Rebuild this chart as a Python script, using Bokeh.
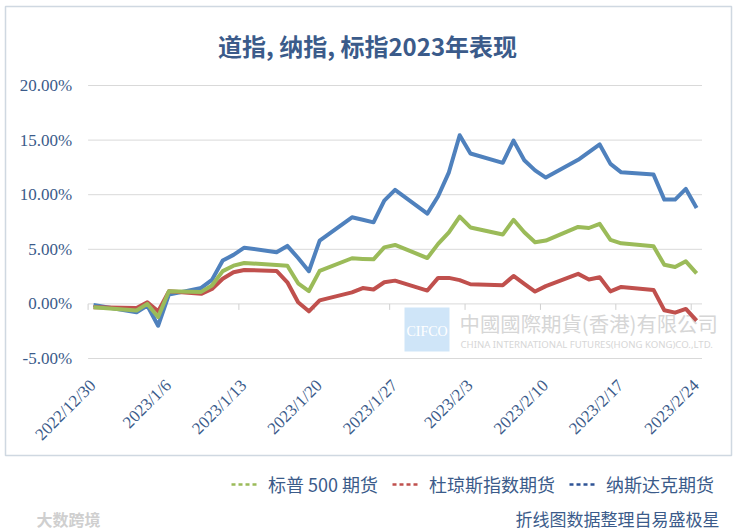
import math
import pandas as pd
from bokeh.plotting import figure
from bokeh.models import (FixedTicker, Label, BoxAnnotation, Legend, LegendItem,
                          Range1d, LinearAxis)
from bokeh.embed import file_html
from bokeh.resources import INLINE

# ---------------- data ----------------
dates = ["2022-12-30", "2023-01-03", "2023-01-04", "2023-01-05", "2023-01-06",
         "2023-01-09", "2023-01-10", "2023-01-11", "2023-01-12", "2023-01-13",
         "2023-01-16", "2023-01-17", "2023-01-18", "2023-01-19", "2023-01-20",
         "2023-01-23", "2023-01-24", "2023-01-25", "2023-01-26", "2023-01-27",
         "2023-01-30", "2023-01-31", "2023-02-01", "2023-02-02", "2023-02-03",
         "2023-02-06", "2023-02-07", "2023-02-08", "2023-02-09", "2023-02-10",
         "2023-02-13", "2023-02-14", "2023-02-15", "2023-02-16", "2023-02-17",
         "2023-02-20", "2023-02-21", "2023-02-22", "2023-02-23", "2023-02-24"]

sp500 = [-0.30, -0.60, 0.00, -1.20, 1.15, 1.10, 1.68, 3.00, 3.50, 3.75,
         3.57, 3.50, 1.89, 1.18, 3.02, 4.18, 4.12, 4.08, 5.18, 5.40,
         4.20, 5.50, 6.56, 8.00, 7.00, 6.35, 7.70, 6.56, 5.64, 5.80,
         7.05, 6.95, 7.33, 5.86, 5.55, 5.27, 3.58, 3.38, 3.90, 2.80]

dow = [-0.30, -0.37, 0.15, -0.68, 1.15, 0.92, 1.37, 2.30, 2.90, 3.11,
       3.02, 1.98, 0.15, -0.68, 0.32, 1.06, 1.45, 1.32, 1.98, 2.13,
       1.22, 2.38, 2.38, 2.18, 1.80, 1.70, 2.56, 1.83, 1.13, 1.63,
       2.75, 2.24, 2.44, 1.15, 1.55, 1.28, -0.58, -0.80, -0.46, -1.53]

nasdaq = [-0.10, -0.77, -0.15, -2.00, 0.85, 1.46, 2.20, 3.97, 4.49, 5.15,
          4.73, 5.31, 4.20, 2.99, 5.80, 7.93, 7.70, 7.47, 9.46, 10.44,
          8.27, 9.86, 12.05, 15.45, 13.77, 12.92, 14.95, 13.15, 12.23, 11.57,
          13.19, 13.90, 14.60, 12.82, 12.05, 11.84, 9.55, 9.55, 10.53, 8.79]

series_names = ["标普 500 期货", "杜琼斯指数期货", "纳斯达克期货"]

x_tick_labels = ["2022/12/30", "2023/1/6", "2023/1/13", "2023/1/20", "2023/1/27",
                 "2023/2/3", "2023/2/10", "2023/2/17", "2023/2/24"]
y_ticks = [-5, 0, 5, 10, 15, 20]
y_tick_labels = ["-5.00%", "0.00%", "5.00%", "10.00%", "15.00%", "20.00%"]

title_text = "道指, 纳指, 标指2023年表现"
footer_text = "折线图数据整理自易盛极星"
brand_text = "大数跨境"
watermark_cn = "中國國際期貨(香港)有限公司"
watermark_en = "CHINA INTERNATIONAL FUTURES(HONG KONG)CO.,LTD."

# ---------------- derived positions (date axis, point centred in its day) ----------------
start = pd.Timestamp(dates[0])
xs = [(pd.Timestamp(d) - start).days + 0.5 for d in dates]
x_ticks = [(pd.Timestamp(t) - start).days for t in x_tick_labels]
x_end = (pd.Timestamp(dates[-1]) - start).days + 1
y_lo, y_hi = y_ticks[0], y_ticks[-1]

# ---------------- canvas geometry (pixels) ----------------
W, H = 734, 531
PL, PR, PT, PB = 87.6, 701.5, 85.0, 358.0     # plotting area inside the canvas
ppx = (PR - PL) / x_end
ppy = (PB - PT) / (y_hi - y_lo)
LABEL_SHIFT = 0.45                              # rotated labels sit a little right of ticks

TXT = "#3B5B8A"
GREEN, RED, BLUE = "#9BBB59", "#C0504D", "#4F81BD"
BORDER = "#5F7E9C"

x0 = 0 - PL / ppx
x1 = x_end + (W - PR) / ppx
p = figure(width=W, height=H, output_backend="svg", toolbar_location=None,
           x_range=Range1d(x0, x1),
           y_range=Range1d(y_lo - (H - PB) / ppy, y_hi + PT / ppy),
           x_axis_type=None, y_axis_type=None, min_border=0)
p.extra_x_ranges = {"labels": Range1d(x0 - LABEL_SHIFT, x1 - LABEL_SHIFT)}
p.outline_line_color = None
p.background_fill_color = "white"
p.border_fill_color = "white"

# chart border
p.add_layout(BoxAnnotation(left=5, right=731, top=6, bottom=455,
                           left_units="canvas", right_units="canvas",
                           top_units="canvas", bottom_units="canvas",
                           fill_alpha=0, line_color=BORDER, line_width=1.5,
                           level="underlay"))

# horizontal grid lines across the plotting area
p.segment(x0=[0] * len(y_ticks), x1=[x_end] * len(y_ticks), y0=y_ticks, y1=y_ticks,
          line_color="#D9D9D9", line_width=1)
# tick marks hanging below the zero line
p.segment(x0=x_ticks, y0=[0] * len(x_ticks), x1=x_ticks, y1=[-0.55] * len(x_ticks),
          line_color="#D0D0D0", line_width=1)

# y axis (fixed at the left edge of the plotting area)
yaxis = LinearAxis(fixed_location=0, ticker=FixedTicker(ticks=y_ticks),
                   major_label_overrides=dict(zip(y_ticks, y_tick_labels)))
yaxis.axis_line_color = None
yaxis.major_tick_line_color = None
yaxis.minor_tick_line_color = None
yaxis.major_label_text_font = "Liberation Serif"
yaxis.major_label_text_font_size = "17px"
yaxis.major_label_text_color = TXT
yaxis.major_label_standoff = 10
p.add_layout(yaxis, "left")

# x axis (fixed at the bottom of the plotting area)
xaxis = LinearAxis(fixed_location=y_lo, x_range_name="labels",
                   ticker=FixedTicker(ticks=x_ticks),
                   major_label_overrides=dict(zip(x_ticks, x_tick_labels)))
xaxis.major_label_orientation = math.pi / 4
xaxis.axis_line_color = None
xaxis.major_tick_line_color = None
xaxis.minor_tick_line_color = None
xaxis.major_label_text_font = "Liberation Serif"
xaxis.major_label_text_font_size = "17px"
xaxis.major_label_text_color = TXT
xaxis.major_label_standoff = 18
p.add_layout(xaxis, "below")

# watermark (under the lines)
p.add_layout(BoxAnnotation(left=404, right=449, top=307, bottom=351,
                           left_units="canvas", right_units="canvas",
                           top_units="canvas", bottom_units="canvas",
                           fill_color="#CFE5F8", fill_alpha=1, line_color=None,
                           level="underlay"))
p.add_layout(Label(x=426.5, y=331, x_units="canvas", y_units="canvas", text="CIFCO",
                   text_align="center", text_baseline="middle", text_color="white",
                   text_font="Liberation Serif", text_font_size="14px", level="underlay"))
p.add_layout(Label(x=459, y=322, x_units="canvas", y_units="canvas",
                   text=watermark_cn, text_align="left",
                   text_baseline="middle", text_color="#D6D6D6",
                   text_font="Noto Sans CJK TC", text_font_size="20.4px", level="underlay"))
p.add_layout(Label(x=460, y=344, x_units="canvas", y_units="canvas",
                   text=watermark_en, text_align="left",
                   text_baseline="middle", text_color="#D6D6D6",
                   text_font="Noto Sans", text_font_size="9.6px", level="underlay"))

# data lines
p.line(xs, nasdaq, line_color=BLUE, line_width=4, line_join="round")
p.line(xs, dow, line_color=RED, line_width=4, line_join="round")
p.line(xs, sp500, line_color=GREEN, line_width=4, line_join="round")

# title
p.add_layout(Label(x=367, y=45, x_units="canvas", y_units="canvas", text=title_text,
                   text_align="center", text_baseline="middle", text_color=TXT,
                   text_font="Noto Sans CJK SC", text_font_size="24px",
                   text_font_style="bold"))

# legend below the border (short dashed markers)
nan = float("nan")
lg = p.line([nan], [nan], line_color=GREEN, line_width=2.5, line_dash="4 3")
lr = p.line([nan], [nan], line_color=RED, line_width=2.5, line_dash="4 3")
lb = p.line([nan], [nan], line_color="#2F5496", line_width=2.5, line_dash="4 3")
legend = Legend(items=[LegendItem(label=series_names[0], renderers=[lg]),
                       LegendItem(label=series_names[1], renderers=[lr]),
                       LegendItem(label=series_names[2], renderers=[lb])],
                orientation="horizontal", location=(231, 34),
                label_text_font="Noto Sans CJK SC", label_text_font_size="18px",
                label_text_color=TXT, glyph_width=27, glyph_height=18,
                label_standoff=10, spacing=14, padding=0, margin=0,
                border_line_color=None, background_fill_alpha=0)
p.add_layout(legend)

# footer
p.add_layout(Label(x=719, y=518, x_units="canvas", y_units="canvas", text=footer_text,
                   text_align="right", text_baseline="middle", text_color=TXT,
                   text_font="Noto Sans CJK SC", text_font_size="17px"))
p.add_layout(Label(x=36, y=518, x_units="canvas", y_units="canvas", text=brand_text,
                   text_align="left", text_baseline="middle", text_color="#CFCFCF",
                   text_font="Noto Sans CJK SC", text_font_size="16px",
                   text_font_style="bold"))

open("out.html", "w").write(file_html(p, INLINE))
